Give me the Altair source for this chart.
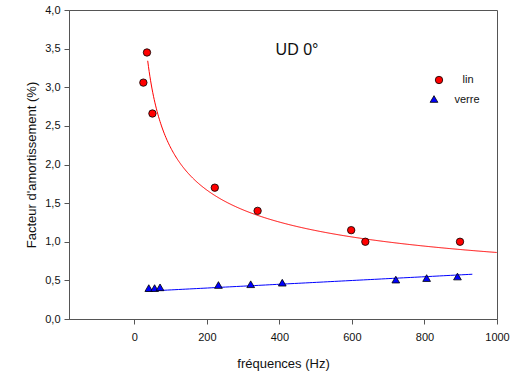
import altair as alt
import pandas as pd

# --- data ---
lin_freq = [25, 35, 50, 222, 340, 598, 637, 898]
lin_damp = [3.06, 3.45, 2.66, 1.70, 1.40, 1.15, 1.00, 1.00]

verre_freq = [40, 56, 71, 232, 321, 408, 721, 806, 891]
verre_damp = [0.40, 0.40, 0.41, 0.44, 0.45, 0.47, 0.51, 0.53, 0.55]

# fitted curves (parameters)
lin_fit_a, lin_fit_b = 14.77, -0.4115        # y = a * x^b
lin_fit_range = [37, 1000]
verre_fit_a, verre_fit_b = 0.352, 0.000244   # y = a + b * x
verre_fit_range = [32, 933]

x_ticks = [0, 200, 400, 600, 800, 1000]
y_ticks = [0.0, 0.5, 1.0, 1.5, 2.0, 2.5, 3.0, 3.5, 4.0]

FONT = "Liberation Sans"

lin_df = pd.DataFrame({"f": lin_freq, "d": lin_damp})
verre_df = pd.DataFrame({"f": verre_freq, "d": verre_damp})

xscale = alt.Scale(domain=[-180, 1000], nice=False, zero=False)
yscale = alt.Scale(domain=[0, 4], nice=False)

xenc = alt.X("f:Q", scale=xscale, title="fréquences (Hz)",
             axis=alt.Axis(values=x_ticks, labelExpr="format(datum.value, 'd')",
                           grid=False, tickSize=5, labelPadding=7, titlePadding=15,
                           labelFlush=False, labelBound=False,
                           labelFontSize=11, titleFontSize=13, labelColor="#111",
                           titleColor="#111", labelFont=FONT, titleFont=FONT,
                           titleFontWeight="normal", domainColor="#555", tickColor="#555"))
yenc = alt.Y("d:Q", scale=yscale, title="Facteur d'amortissement (%)",
             axis=alt.Axis(values=y_ticks,
                           labelExpr="replace(format(datum.value, '.1f'), '.', ',')",
                           grid=False, tickSize=5, labelPadding=4, titlePadding=6,
                           labelFlush=False, labelBound=False,
                           labelFontSize=11, titleFontSize=13, labelColor="#111",
                           titleColor="#111", labelFont=FONT, titleFont=FONT,
                           titleFontWeight="normal", domainColor="#555", tickColor="#555"))

lin_curve = alt.Chart(alt.sequence(lin_fit_range[0], lin_fit_range[1] + 1, 2, as_="f")).transform_calculate(
    d=f"{lin_fit_a} * pow(datum.f, {lin_fit_b})"
).mark_line(color="#ff0000", strokeWidth=1, clip=True).encode(x=xenc, y=yenc)

verre_curve = alt.Chart(alt.sequence(verre_fit_range[0], verre_fit_range[1] + 1, 10, as_="f")).transform_calculate(
    d=f"{verre_fit_a} + {verre_fit_b} * datum.f"
).mark_line(color="#0000ff", strokeWidth=1).encode(x=xenc, y=yenc)

lin_pts = alt.Chart(lin_df).mark_point(
    shape="circle", filled=True, fill="#ff0000", stroke="#000", strokeWidth=0.8, size=55, opacity=1
).encode(x=xenc, y=yenc)

verre_pts = alt.Chart(verre_df).mark_point(
    shape="triangle-up", filled=True, fill="#0000ff", stroke="#000", strokeWidth=0.8, size=60, opacity=1
).encode(x=xenc, y=yenc)

one = alt.Data(values=[{"a": 1}])
title_txt = alt.Chart(one).mark_text(text="UD 0°", font=FONT, fontSize=16, color="#111",
                                     align="center", baseline="middle").encode(
    x=alt.value(228), y=alt.value(40))
leg_c = alt.Chart(one).mark_point(shape="circle", filled=True, fill="#ff0000", stroke="#000",
                                  strokeWidth=0.8, size=55, opacity=1).encode(
    x=alt.value(370), y=alt.value(70))
leg_t = alt.Chart(one).mark_point(shape="triangle-up", filled=True, fill="#0000ff", stroke="#000",
                                  strokeWidth=0.8, size=60, opacity=1).encode(
    x=alt.value(365), y=alt.value(89))
leg_lin = alt.Chart(one).mark_text(text="lin", font=FONT, fontSize=11, color="#111",
                                   align="center", baseline="middle").encode(
    x=alt.value(399), y=alt.value(70))
leg_verre = alt.Chart(one).mark_text(text="verre", font=FONT, fontSize=11, color="#111",
                                     align="center", baseline="middle").encode(
    x=alt.value(398), y=alt.value(90))

chart = alt.layer(
    lin_curve, verre_curve, lin_pts, verre_pts, title_txt, leg_c, leg_t, leg_lin, leg_verre
).properties(
    width=428, height=309,
    autosize=alt.AutoSizeParams(type="none"),
    padding={"left": 69, "top": 10, "right": 13, "bottom": 60},
    background="white",
).configure_view(stroke="#555", strokeWidth=1)

chart.save("out.html", embed_options={"renderer": "svg", "actions": False})
